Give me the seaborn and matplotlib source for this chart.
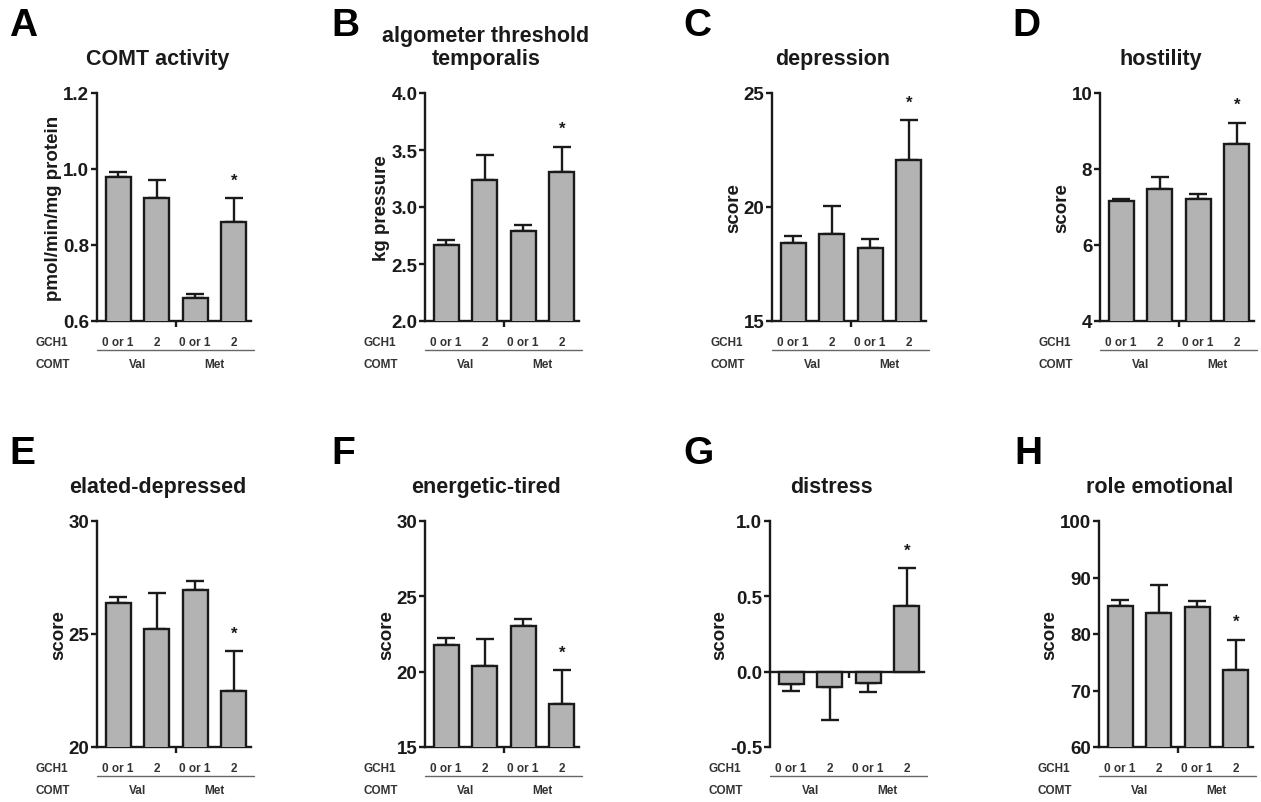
import matplotlib
matplotlib.use("Agg")
import pandas as pd
import matplotlib.pyplot as plt
import seaborn as sns

# Group labels
groups = ['Val 0 or 1', 'Val 2', 'Met 0 or 1', 'Met 2']
gch1_labels = ['0 or 1', '2', '0 or 1', '2']
comt_labels = ['Val', 'Met']

# Values (mean and SEM, four groups each)
comt_activity_mean = [0.98, 0.925, 0.66, 0.86]
comt_activity_sem = [0.012, 0.045, 0.012, 0.063]

algometer_mean = [2.67, 3.24, 2.79, 3.31]
algometer_sem = [0.04, 0.22, 0.05, 0.22]

depression_mean = [18.4, 18.8, 18.2, 22.05]
depression_sem = [0.35, 1.25, 0.4, 1.75]

hostility_mean = [7.15, 7.48, 7.22, 8.65]
hostility_sem = [0.07, 0.3, 0.12, 0.57]

elated_mean = [26.35, 25.2, 26.95, 22.5]
elated_sem = [0.3, 1.6, 0.4, 1.75]

energetic_mean = [21.8, 20.4, 23.0, 17.85]
energetic_sem = [0.45, 1.75, 0.5, 2.25]

distress_mean = [-0.08, -0.10, -0.075, 0.435]
distress_sem = [0.05, 0.22, 0.06, 0.25]

role_emotional_mean = [85.0, 83.8, 84.7, 73.6]
role_emotional_sem = [1.0, 4.9, 1.1, 5.4]

star_group = 3  # significant group marked with *

panels = [
    ('A', 'COMT activity', 'pmol/min/mg protein', comt_activity_mean, comt_activity_sem, [0.6, 0.8, 1.0, 1.2], '{:.1f}'),
    ('B', 'algometer threshold\ntemporalis', 'kg pressure', algometer_mean, algometer_sem, [2.0, 2.5, 3.0, 3.5, 4.0], '{:.1f}'),
    ('C', 'depression', 'score', depression_mean, depression_sem, [15, 20, 25], '{:.0f}'),
    ('D', 'hostility', 'score', hostility_mean, hostility_sem, [4, 6, 8, 10], '{:.0f}'),
    ('E', 'elated-depressed', 'score', elated_mean, elated_sem, [20, 25, 30], '{:.0f}'),
    ('F', 'energetic-tired', 'score', energetic_mean, energetic_sem, [15, 20, 25, 30], '{:.0f}'),
    ('G', 'distress', 'score', distress_mean, distress_sem, [-0.5, 0.0, 0.5, 1.0], '{:.1f}'),
    ('H', 'role emotional', 'score', role_emotional_mean, role_emotional_sem, [60, 70, 80, 90, 100], '{:.0f}'),
]

# axes placement in pixels (left, top, right, bottom) on a 1261x803 canvas
W, H = 1261, 803
boxes = [
    (97, 94, 251, 322), (425, 94, 579, 322), (772, 94, 926, 322), (1100, 94, 1254, 322),
    (97, 522, 251, 748), (425, 522, 579, 748), (770, 522, 924, 748), (1099, 522, 1253, 748),
]
letter_pos = [(9, 26), (331, 26), (683, 26), (1012, 26),
              (9, 454), (331, 454), (683, 454), (1014, 454)]
title_y = [60, 48, 60, 60, 488, 488, 488, 488]

sns.set_theme(style="ticks")
plt.rcParams['font.family'] = ['Liberation Sans', 'DejaVu Sans']
plt.rcParams['font.weight'] = 'bold'
plt.rcParams['axes.labelweight'] = 'bold'

ink = '#1a1a1a'
fig = plt.figure(figsize=(W / 100, H / 100), dpi=100)

for i, (letter, title, ylabel, means, sems, yticks, fmt) in enumerate(panels):
    l, t, r, b = boxes[i]
    ax = fig.add_axes([l / W, 1 - b / H, (r - l) / W, (b - t) / H])

    df = pd.DataFrame({'group': groups, 'value': means})
    sns.barplot(data=df, x='group', y='value', order=groups, ax=ax,
                color='#b3b3b3', saturation=1, width=0.65,
                edgecolor=ink, linewidth=1.7, errorbar=None, zorder=3)

    lower = [s if m < 0 else 0 for m, s in zip(means, sems)]
    upper = [0 if m < 0 else s for m, s in zip(means, sems)]
    ax.errorbar(range(4), means, yerr=[lower, upper], fmt='none',
                ecolor=ink, elinewidth=1.7, capsize=6.5, capthick=1.7, zorder=2)

    top = means[star_group] + sems[star_group]
    ax.annotate('*', xy=(star_group, top), xytext=(0, 13), textcoords='offset points',
                ha='center', va='center', fontsize=12, color=ink)

    ax.set_xlim(-0.55, 3.45)
    ax.set_ylim(yticks[0], yticks[-1])
    ax.set_yticks(yticks)
    ax.set_yticklabels([fmt.format(v) for v in yticks], fontsize=13.5, color=ink)
    ax.set_xticks([1.5])
    ax.set_xticklabels([''])
    ax.set_xlabel('')
    ax.set_ylabel(ylabel, fontsize=13.5, color=ink, labelpad=1)

    sns.despine(ax=ax)
    for side in ['left', 'bottom']:
        ax.spines[side].set_linewidth(1.7)
        ax.spines[side].set_color(ink)
    if yticks[0] < 0:
        ax.spines['bottom'].set_position(('data', 0))
    ax.tick_params(axis='both', length=4.5, width=1.7, color=ink, pad=1)
    ax.set_facecolor('none')

    # group rows under the axis
    xt = ax.get_xaxis_transform()
    for k, lab in enumerate(gch1_labels):
        ax.text(k, -0.092, lab, transform=xt, ha='center', va='center',
                fontsize=8.5, color='#333333')
    for k, lab in enumerate(comt_labels):
        ax.text(0.5 + 2 * k, -0.19, lab, transform=xt, ha='center', va='center',
                fontsize=8.5, color='#333333')
    ax.text(-0.40, -0.092, 'GCH1', transform=ax.transAxes, ha='left', va='center',
            fontsize=8.5, color='#333333')
    ax.text(-0.40, -0.19, 'COMT', transform=ax.transAxes, ha='left', va='center',
            fontsize=8.5, color='#333333')
    ax.plot([0, 1.02], [-0.127, -0.127], transform=ax.transAxes, clip_on=False,
            color='#666666', lw=1)

    # title and panel letter
    fig.text(((l + r) / 2 - 16) / W, 1 - title_y[i] / H, title, ha='center', va='center',
             fontsize=15.5, color=ink, linespacing=1.1)
    lx, ly = letter_pos[i]
    fig.text(lx / W, 1 - ly / H, letter, ha='left', va='center', fontsize=28, color='black')

fig.savefig("out.png", dpi=100, facecolor='white')
